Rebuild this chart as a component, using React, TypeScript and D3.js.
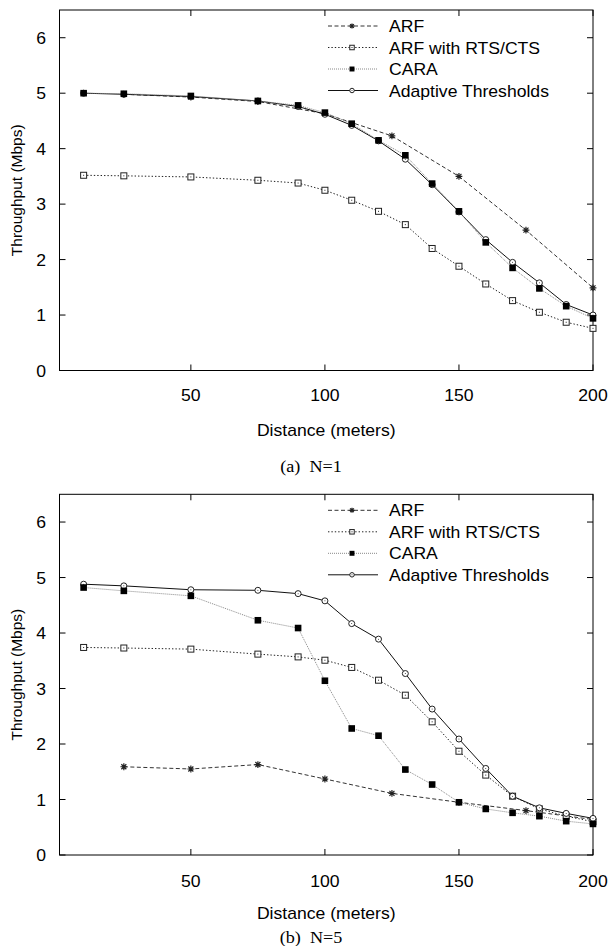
import React from "react";
import * as d3 from "d3";

// ---- data ----
const distances = [10, 25, 50, 75, 90, 100, 110, 120, 130, 140, 150, 160, 170, 180, 190, 200];
const arfDistances = [25, 50, 75, 100, 125, 150, 175, 200];

const seriesNames = ["ARF", "ARF with RTS/CTS", "CARA", "Adaptive Thresholds"];

const arfA = [4.98, 4.93, 4.85, 4.63, 4.23, 3.5, 2.53, 1.49];
const rtsA = [3.52, 3.51, 3.49, 3.43, 3.38, 3.25, 3.07, 2.87, 2.63, 2.2, 1.88, 1.56, 1.26, 1.05, 0.87, 0.76];
const caraA = [5.0, 4.99, 4.95, 4.86, 4.78, 4.65, 4.45, 4.15, 3.88, 3.37, 2.87, 2.31, 1.85, 1.48, 1.16, 0.94];
const adaptA = [5.0, 4.98, 4.94, 4.86, 4.76, 4.62, 4.42, 4.14, 3.81, 3.35, 2.86, 2.36, 1.95, 1.58, 1.19, 1.0];

const arfB = [1.59, 1.55, 1.63, 1.37, 1.11, 0.95, 0.8, 0.64];
const rtsB = [3.74, 3.73, 3.71, 3.62, 3.57, 3.51, 3.38, 3.15, 2.88, 2.4, 1.87, 1.44, 1.06, 0.83, 0.7, 0.6];
const caraB = [4.82, 4.76, 4.67, 4.23, 4.09, 3.14, 2.28, 2.15, 1.54, 1.27, 0.95, 0.83, 0.76, 0.7, 0.61, 0.56];
const adaptB = [4.88, 4.85, 4.78, 4.77, 4.71, 4.58, 4.17, 3.89, 3.27, 2.63, 2.09, 1.56, 1.06, 0.85, 0.75, 0.66];

const xTicks = [50, 100, 150, 200];
const yTicks = [0, 1, 2, 3, 4, 5, 6];

const panelCaptions = ["(a)  N=1", "(b)  N=5"];
const xLabel = "Distance (meters)";
const yLabel = "Throughput (Mbps)";

// ---- styles ----
const FONT = "'Liberation Sans', Arial, sans-serif";
const SX = 1.1;
const styles = [
  { stroke: "#333", dash: "4,2.5", marker: "star" },
  { stroke: "#222", dash: "1.4,2", marker: "sqOpen" },
  { stroke: "#888", dash: "1,1", marker: "sqFill" },
  { stroke: "#111", dash: "", marker: "circle" },
];

function Marker({ type, x, y, small }: { type: string; x: number; y: number; small?: boolean }) {
  const k = small ? 0.75 : 1;
  if (type === "star") {
    const s = 3.4 * k, d = 2.5 * k;
    return (
      <path
        d={`M${x - s},${y}L${x + s},${y}M${x},${y - s}L${x},${y + s}M${x - d},${y - d}L${x + d},${y + d}M${x - d},${y + d}L${x + d},${y - d}`}
        stroke="#222" strokeWidth={1.2} fill="none"
      />
    );
  }
  if (type === "sqOpen") {
    const s = 3 * k;
    return (
      <g>
        <rect x={x - s} y={y - s} width={2 * s} height={2 * s} fill="white" stroke="#222" strokeWidth={1} />
        <rect x={x - 0.5} y={y - 0.5} width={1} height={1} fill="#222" />
      </g>
    );
  }
  if (type === "sqFill") {
    const s = 3.3 * k;
    return <rect x={x - s} y={y - s} width={2 * s} height={2 * s} fill="#000" />;
  }
  const r = 3 * k;
  return (
    <g>
      <circle cx={x} cy={y} r={r} fill="white" stroke="#222" strokeWidth={1} />
      <circle cx={x} cy={y} r={0.5} fill="#222" />
    </g>
  );
}

function HText({ x, y, anchor, children, size = 16, family = FONT, pre = false }: any) {
  return (
    <text
      transform={`translate(${x},${y}) scale(${SX},1)`}
      textAnchor={anchor}
      fontFamily={family}
      fontSize={size}
      fill="#000"
      style={pre ? { whiteSpace: "pre" } : undefined}
    >
      {children}
    </text>
  );
}

function Panel({ top, bottom, series, caption, tickY, xlabY, capY }: any) {
  const left = 59.5, right = 593;
  const x = d3.scaleLinear().domain([1, 200]).range([left, right]);
  const y = d3.scaleLinear().domain([0, 6.5]).range([bottom, top]);
  const line = d3.line<[number, number]>().x((d) => x(d[0])).y((d) => y(d[1]));
  const tl = 6;
  const order = [0, 1, 3, 2];
  const legX0 = 328, legX1 = 378, legM = 352, legT = 389;
  const legRows = [top + 16, top + 37.5, top + 59, top + 80.5];
  return (
    <g>
      <rect x={left} y={top} width={right - left} height={bottom - top} fill="none" stroke="#000" strokeWidth={1} />
      {yTicks.map((t) => (
        <g key={"y" + t}>
          <line x1={left} x2={left + tl} y1={y(t)} y2={y(t)} stroke="#000" />
          <line x1={right} x2={right - tl} y1={y(t)} y2={y(t)} stroke="#000" />
          <HText x={46} y={y(t) + 6} anchor="end">{t}</HText>
        </g>
      ))}
      {xTicks.map((t) => (
        <g key={"x" + t}>
          <line x1={x(t)} x2={x(t)} y1={bottom} y2={bottom - tl} stroke="#000" />
          <line x1={x(t)} x2={x(t)} y1={top} y2={top + tl} stroke="#000" />
          <HText x={x(t)} y={tickY} anchor="middle">{t}</HText>
        </g>
      ))}
      <HText x={(left + right) / 2} y={xlabY} anchor="middle">{xLabel}</HText>
      <text
        transform={`translate(22,${(top + bottom) / 2}) rotate(-90)`}
        textAnchor="middle"
        fontFamily={FONT}
        fontSize={15.5}
      >
        {yLabel}
      </text>
      <HText x={311} y={capY} anchor="middle" size={16.5} family="'Liberation Serif', 'Times New Roman', serif" pre>
        {caption}
      </HText>
      {seriesNames.map((n, i) => (
        <g key={"leg" + i}>
          <line x1={legX0} x2={legX1} y1={legRows[i]} y2={legRows[i]} stroke={styles[i].stroke}
            strokeDasharray={styles[i].dash || undefined} strokeWidth={1} />
          <Marker type={styles[i].marker} x={legM} y={legRows[i]} small />
          <HText x={legT} y={legRows[i] + 6} anchor="start">{n}</HText>
        </g>
      ))}
      {order.map((i) => {
        const xs = i === 0 ? arfDistances : distances;
        const pts: [number, number][] = series[i].map((v: number, j: number) => [xs[j], v]);
        return (
          <g key={"s" + i}>
            <path d={line(pts) || ""} fill="none" stroke={styles[i].stroke}
              strokeDasharray={styles[i].dash || undefined} strokeWidth={1} />
            {pts.map((p, j) => (
              <Marker key={j} type={styles[i].marker} x={x(p[0])} y={y(p[1])} />
            ))}
          </g>
        );
      })}
    </g>
  );
}

export default function App() {
  return (
    <svg width={611} height={946} style={{ position: "absolute", left: 0, top: 0, background: "#fff" }}>
      <rect x={0} y={0} width={611} height={946} fill="#fff" />
      <Panel top={10} bottom={370.5} series={[arfA, rtsA, caraA, adaptA]} caption={panelCaptions[0]}
        tickY={401} xlabY={436} capY={472} />
      <Panel top={494.3} bottom={855} series={[arfB, rtsB, caraB, adaptB]} caption={panelCaptions[1]}
        tickY={887} xlabY={919} capY={943} />
    </svg>
  );
}
